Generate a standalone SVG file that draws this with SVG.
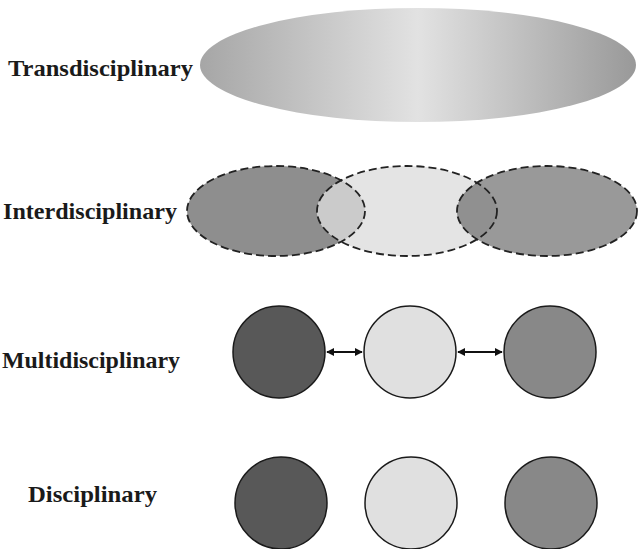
<svg xmlns="http://www.w3.org/2000/svg" width="638" height="549" viewBox="0 0 638 549">
<style>
.lbl{font-family:"Liberation Serif","Times New Roman",serif;font-weight:bold;font-size:23.5px;fill:#1a1a1a}
.dash{fill:none;stroke:#222;stroke-width:1.8;stroke-dasharray:8,4}
.circ{stroke:#1a1a1a;stroke-width:1.5}
.conn{stroke:#111;stroke-width:1.8;fill:none}
</style>
<defs>
<linearGradient id="g" x1="0" y1="0" x2="1" y2="0">
<stop offset="0" stop-color="#a6a6a6"/>
<stop offset="0.5" stop-color="#e2e2e2"/>
<stop offset="1" stop-color="#999999"/>
</linearGradient>
<marker id="ah" viewBox="0 0 10 10" refX="9" refY="5" markerWidth="4.5" markerHeight="4.5" orient="auto-start-reverse">
<path d="M0,0 L10,5 L0,10 z" fill="#111"/>
</marker>
<clipPath id="cm"><ellipse cx="407" cy="211" rx="90" ry="45"/></clipPath>
</defs>
<rect width="638" height="549" fill="#fff"/>
<g id="labels">
<text class="lbl" x="8" y="76" textLength="185" lengthAdjust="spacingAndGlyphs">Transdisciplinary</text>
<text class="lbl" x="3" y="219" textLength="174" lengthAdjust="spacingAndGlyphs">Interdisciplinary</text>
<text class="lbl" x="2" y="368" textLength="178" lengthAdjust="spacingAndGlyphs">Multidisciplinary</text>
<text class="lbl" x="28" y="502" textLength="129" lengthAdjust="spacingAndGlyphs">Disciplinary</text>
</g>
<g id="trans">
<ellipse cx="418" cy="65" rx="218" ry="57" fill="url(#g)"/>
</g>
<g id="inter">
<ellipse cx="276" cy="211" rx="89" ry="45" fill="#8e8e8e"/>
<ellipse cx="407" cy="211" rx="90" ry="45" fill="#e4e4e4"/>
<ellipse cx="547" cy="211" rx="90" ry="45" fill="#999999"/>
<ellipse cx="276" cy="211" rx="89" ry="45" fill="#cbcbcb" clip-path="url(#cm)"/>
<ellipse cx="547" cy="211" rx="90" ry="45" fill="#909090" clip-path="url(#cm)"/>
<ellipse class="dash" cx="276" cy="211" rx="89" ry="45"/>
<ellipse class="dash" cx="407" cy="211" rx="90" ry="45"/>
<ellipse class="dash" cx="547" cy="211" rx="90" ry="45"/>
</g>
<g id="multi-1"><circle class="circ" cx="279" cy="352" r="46" fill="#585858"/></g>
<g id="multi-2"><circle class="circ" cx="410" cy="352" r="46" fill="#e0e0e0"/></g>
<g id="multi-3"><circle class="circ" cx="550" cy="352" r="46" fill="#888888"/></g>
<g id="connectors">
<line class="conn" x1="327" y1="352" x2="362" y2="352" marker-start="url(#ah)" marker-end="url(#ah)"/>
<line class="conn" x1="458" y1="352" x2="502" y2="352" marker-start="url(#ah)" marker-end="url(#ah)"/>
</g>
<g id="disc-1"><circle class="circ" cx="281" cy="503" r="46" fill="#585858"/></g>
<g id="disc-2"><circle class="circ" cx="411" cy="503" r="46" fill="#e0e0e0"/></g>
<g id="disc-3"><circle class="circ" cx="551" cy="503" r="46" fill="#888888"/></g>
</svg>
